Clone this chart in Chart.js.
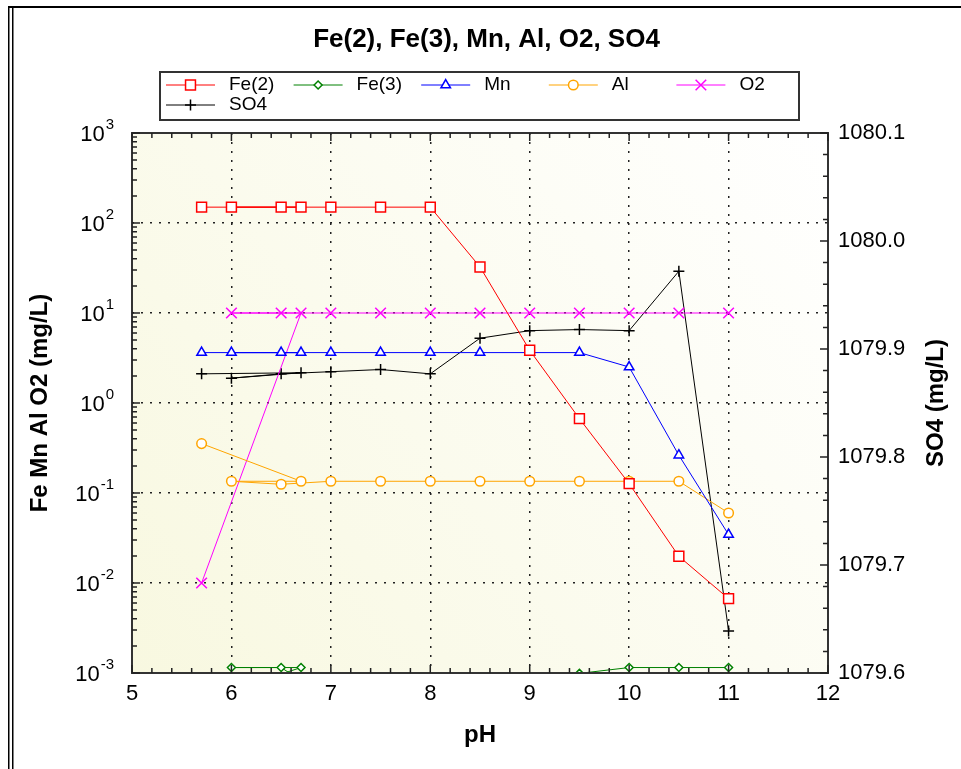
<!DOCTYPE html>
<html>
<head>
<meta charset="utf-8">
<script src="https://cdn.jsdelivr.net/npm/chart.js@4.4.0/dist/chart.umd.min.js"></script>
<style>
  html, body { margin: 0; padding: 0; background: #fff; }
  canvas { display: block; }
</style>
</head>
<body>
<canvas id="chemChart" width="961" height="769"></canvas>
<script>
// pH values in the order the rows were plotted (6.7 comes right after 5.7)
var phValues = [5.7, 6.7, 6.0, 6.5, 7.0, 7.5, 8.0, 8.5, 9.0, 9.5, 10.0, 10.5, 11.0];
var fe2 = [150, 150, 150, 150, 150, 150, 150, 32.5, 3.85, 0.67, 0.127, 0.0198, 0.0067];
var fe3 = [0.0005, 0.00115, 0.00115, 0.00115, 0.0005, 0.0005, 0.0005, 0.0005, 0.0005, 0.00099, 0.00115, 0.00115, 0.00115];
var mn = [3.63, 3.63, 3.63, 3.63, 3.63, 3.63, 3.63, 3.63, 3.63, 3.63, 2.51, 0.263, 0.0345];
var al = [0.354, 0.135, 0.135, 0.125, 0.135, 0.135, 0.135, 0.135, 0.135, 0.135, 0.135, 0.135, 0.06];
var o2 = [0.01, 10, 10, 10, 10, 10, 10, 10, 10, 10, 10, 10, 10];
var so4 = [1079.877, 1079.878, 1079.873, 1079.877, 1079.879, 1079.881, 1079.877, 1079.910, 1079.917, 1079.918, 1079.917, 1079.972, 1079.639];

var xTicks = [5, 6, 7, 8, 9, 10, 11, 12];
var logExponents = [-3, -2, -1, 0, 1, 2, 3];
var so4Ticks = [1079.6, 1079.7, 1079.8, 1079.9, 1080.0, 1080.1];

var FONT = "'Liberation Sans', Arial, sans-serif";
Chart.defaults.font.family = FONT;
Chart.defaults.color = '#000';

function series(label, values, color, style, radius, axis) {
  return {
    label: label,
    data: values.map(function(v, i) { return { x: phValues[i], y: v }; }),
    yAxisID: axis || 'y',
    showLine: true,
    borderColor: color,
    backgroundColor: color,
    borderWidth: 1,
    tension: 0,
    pointStyle: style,
    pointRadius: radius,
    pointBorderColor: color,
    pointBackgroundColor: '#ffffff',
    pointBorderWidth: 1.5
  };
}

var datasets = [
  series('Fe(2)', fe2, '#ff0000', 'rect', 7),
  series('Fe(3)', fe3, '#008000', 'rectRot', 4),
  series('Mn', mn, '#0000ff', 'triangle', 5.5),
  series('Al', al, '#ffa500', 'circle', 4.8),
  series('O2', o2, '#ff00ff', 'crossRot', 7.5),
  series('SO4', so4, '#000000', 'cross', 5.5, 'y2')
];

// yellowish plot background
var plotBackground = {
  id: 'plotBackground',
  beforeDraw: function(chart) {
    var a = chart.chartArea, ctx = chart.ctx;
    var g = ctx.createLinearGradient(a.right, a.top, a.left, a.bottom);
    g.addColorStop(0, '#ffffff');
    g.addColorStop(1, '#f8f8e0');
    ctx.save();
    ctx.fillStyle = g;
    ctx.fillRect(a.left, a.top, a.right - a.left, a.bottom - a.top);
    ctx.restore();
  }
};

// frame, inward ticks, superscript labels, right title, legend box
var decorations = {
  id: 'decorations',
  afterDraw: function(chart) {
    var ctx = chart.ctx, a = chart.chartArea;
    var xs = chart.scales.x, ys = chart.scales.y, y2 = chart.scales.y2;
    ctx.save();

    // page frame
    ctx.fillStyle = '#000';
    ctx.fillRect(8, 6, 953, 2);
    ctx.fillRect(8, 6, 1.5, 763);
    ctx.fillRect(12, 6, 1.5, 763);

    // plot frame
    ctx.strokeStyle = '#333';
    ctx.lineWidth = 2;
    ctx.strokeRect(a.left, a.top, a.right - a.left, a.bottom - a.top);

    // ticks
    ctx.lineWidth = 1.5;
    ctx.strokeStyle = '#222';
    ctx.beginPath();
    for (var i = 0; i <= 35; i++) {
      var px = xs.getPixelForValue(5 + i * 0.2);
      var len = i % 5 === 0 ? 8 : 5;
      ctx.moveTo(px, a.bottom); ctx.lineTo(px, a.bottom - len);
      ctx.moveTo(px, a.top); ctx.lineTo(px, a.top + len);
    }
    for (var d = -3; d <= 3; d++) {
      for (var k = 1; k <= 9; k++) {
        if (d === 3 && k > 1) break;
        var py = ys.getPixelForValue(k * Math.pow(10, d));
        var l = k === 1 ? 8 : 5;
        ctx.moveTo(a.left, py); ctx.lineTo(a.left + l, py);
      }
    }
    for (var j = 0; j <= 25; j++) {
      var qy = y2.getPixelForValue(1079.6 + j * 0.02);
      var ql = j % 5 === 0 ? 8 : 5;
      ctx.moveTo(a.right, qy); ctx.lineTo(a.right - ql, qy);
    }
    ctx.stroke();

    // left tick labels 10^n
    ctx.fillStyle = '#000';
    ctx.textBaseline = 'middle';
    ctx.textAlign = 'right';
    logExponents.forEach(function(e) {
      var py = ys.getPixelForValue(Math.pow(10, e));
      var ex = String(e);
      ctx.font = '15px ' + FONT;
      var ew = ctx.measureText(ex).width;
      ctx.fillText(ex, 114, py - 8);
      ctx.font = '22px ' + FONT;
      ctx.fillText('10', 114 - ew - 1, py + 2);
    });

    // right axis title, reading upwards
    ctx.save();
    ctx.translate(936, (a.top + a.bottom) / 2);
    ctx.rotate(-Math.PI / 2);
    ctx.textAlign = 'center';
    ctx.font = 'bold 24px ' + FONT;
    ctx.fillText('SO4 (mg/L)', 0, 0);
    ctx.restore();

    // legend
    var lx = 160, ly = 72, lw = 639, lh = 48;
    ctx.fillStyle = '#fff';
    ctx.fillRect(lx, ly, lw, lh);
    ctx.strokeStyle = '#333';
    ctx.lineWidth = 2;
    ctx.strokeRect(lx, ly, lw, lh);
    ctx.textAlign = 'left';
    ctx.font = '19px ' + FONT;
    chart.data.datasets.forEach(function(ds, n) {
      var col = n % 5, row = Math.floor(n / 5);
      var x0 = 166 + col * 127.6, yc = 85 + row * 20;
      ctx.strokeStyle = ds.borderColor;
      ctx.lineWidth = 1;
      ctx.beginPath();
      ctx.moveTo(x0, yc); ctx.lineTo(x0 + 49, yc);
      ctx.stroke();
      ctx.fillStyle = '#fff';
      ctx.lineWidth = 1.5;
      Chart.helpers.drawPoint(ctx, { pointStyle: ds.pointStyle, radius: ds.pointRadius, rotation: 0, borderWidth: 1.5 }, x0 + 24.5, yc);
      ctx.fillStyle = '#000';
      ctx.fillText(ds.label, x0 + 63, yc);
    });
    ctx.restore();
  }
};

var ctx = document.getElementById('chemChart').getContext('2d');
new Chart(ctx, {
  type: 'scatter',
  data: { datasets: datasets },
  plugins: [plotBackground, decorations],
  options: {
    responsive: false,
    animation: false,
    devicePixelRatio: 1,
    events: [],
    layout: { padding: { left: 12, right: 0, top: 0, bottom: 0 } },
    plugins: {
      legend: { display: false },
      tooltip: { enabled: false },
      title: {
        display: true,
        text: 'Fe(2), Fe(3), Mn, Al, O2, SO4',
        font: { size: 26, weight: 'bold' },
        color: '#000',
        padding: { top: 24.4, bottom: 77.4 }
      }
    },
    scales: {
      x: {
        type: 'linear',
        position: 'bottom',
        min: 5,
        max: 12,
        afterBuildTicks: function(s) { s.ticks = xTicks.map(function(v) { return { value: v }; }); },
        afterFit: function(s) { s.height = 96; },
        ticks: { font: { size: 22 }, color: '#000', padding: 8 },
        grid: { drawTicks: false, color: '#222', lineWidth: 1.5 },
        border: { display: false, dash: [2, 7] },
        title: { display: true, text: 'pH', font: { size: 24, weight: 'bold' }, color: '#000', padding: { top: 0, bottom: 19.6 } }
      },
      y: {
        type: 'logarithmic',
        position: 'left',
        min: 0.001,
        max: 1000,
        afterBuildTicks: function(s) { s.ticks = logExponents.map(function(e) { return { value: Math.pow(10, e) }; }); },
        afterFit: function(s) { s.width = 120; },
        ticks: { display: false },
        grid: { drawTicks: false, color: '#222', lineWidth: 1.5 },
        border: { display: false, dash: [2, 7] },
        title: { display: true, text: 'Fe Mn Al O2 (mg/L)', font: { size: 24, weight: 'bold' }, color: '#000', padding: { top: 13.6, bottom: 0 } }
      },
      y2: {
        type: 'linear',
        position: 'right',
        min: 1079.6,
        max: 1080.1,
        afterBuildTicks: function(s) { s.ticks = so4Ticks.map(function(v) { return { value: v }; }); },
        afterFit: function(s) { s.width = 133; },
        ticks: { font: { size: 22 }, color: '#000', padding: 10, callback: function(v) { return Number(v).toFixed(1); } },
        grid: { display: false, drawTicks: false },
        border: { display: false },
        title: { display: false }
      }
    }
  }
});
</script>
</body>
</html>
